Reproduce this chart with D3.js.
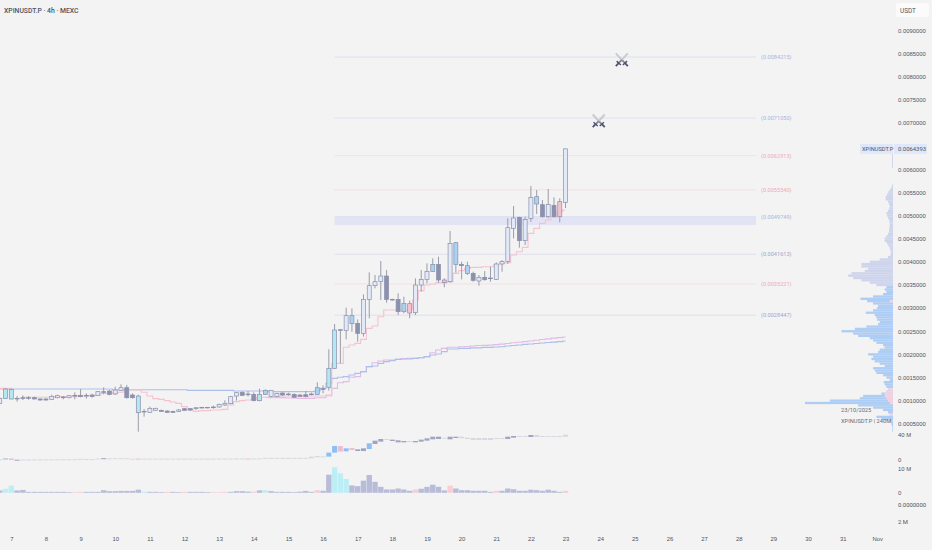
<!DOCTYPE html>
<html>
<head>
<meta charset="utf-8">
<script src="https://cdn.jsdelivr.net/npm/d3@7/dist/d3.min.js"></script>
<style>
  html, body { margin: 0; padding: 0; background: #f3f3f3; overflow: hidden; }
  svg { display: block; font-family: Roboto, sans-serif; }
  .axis text { fill: #50535e; font-size: 5.9px; }
  .axis path, .axis line { display: none; }
</style>
</head>
<body>
<svg id="chart"></svg>
<script>
// Configuration
const width = 932;
const height = 550;
const barWidth = 4;

// Prices are in millionths of USDT, first bar is two bars before 7 Oct 00:00
const bodyTop = [1050,1252,1244,1050,1064,1064,1064,1036,1036,1093,1108,1079,1108,1115,1115,1115,1122,1194,1194,1208,1230,1280,1280,1122,1100,769,834,834,791,776,769,798,827,827,848,856,856,863,920,942,1086,1172,1180,1144,1136,1136,1223,1223,1158,1165,1144,1136,1122,1129,1144,
  1280,1259,1698,2526,2533,2836,2836,2670,3188,3484,3570,3692,3692,3188,3188,3102,3095,3498,3620,3793,3944,3944,3606,4398,4412,3944,3916,3750,3664,3664,3649,3952,4009,4736,4945,4960,4916,5392,5406,5233,5240,5219,5298,6439.3];
const bodyBottom = [942,1050,1036,1036,1050,1050,1036,1014,1014,1028,1064,1064,1064,1100,1086,1100,1093,1115,1180,1136,1144,1223,1064,1064,740,755,748,791,769,748,748,769,791,798,827,841,848,848,863,906,935,1100,1115,1129,1000,1000,1136,1093,1093,1122,1129,1072,1093,1093,1129,
  1136,1244,1288,1698,2519,2519,2663,2454,2454,3188,3484,3577,3188,3174,2922,2922,2893,2900,3498,3620,3793,3606,3548,3570,3944,3916,3750,3599,3584,3613,3635,3620,3952,4009,4722,4456,4456,4938,5248,4974,4974,4974,4974,5284];
const highs = [1072,1266,1266,1100,1115,1100,1086,1050,1050,1129,1129,1100,1122,1180,1252,1158,1151,1208,1288,1230,1302,1352,1338,1158,1129,820,870,848,805,791,784,820,834,841,856,863,863,892,935,1007,1100,1187,1201,1208,1180,1259,1244,1230,1172,1180,1172,1158,1144,1208,1172,
  1396,1331,2108,2656,2540,3008,2994,2756,3296,3772,3714,4016,3822,3203,3318,3246,3160,3642,3822,3966,4074,4110,3642,4664,4427,4002,4002,3786,3714,3800,3894,3988,4038,4938,5204,4974,4974,5636,5550,5334,5572,5392,5370,6439.3];
const lows = [928,1036,1028,978,1014,1021,1028,1000,1000,1021,1050,1028,1050,1028,1072,1043,1064,1108,1136,1115,1122,1216,1043,1043,330,654,740,784,762,733,733,755,784,776,798,834,834,827,848,884,920,1000,1100,1086,985,985,1122,1072,1086,1100,1108,1057,1079,1072,1115,
  1122,1158,1216,1684,1806,2324,2490,2274,2382,2778,3426,3174,3116,3160,2850,2886,2778,2850,3354,3534,3779,3548,3448,3548,3764,3620,3714,3570,3484,3592,3570,3606,3786,3952,4506,4304,4362,4866,5032,4952,4938,4960,4852,5161];
const candleTones = "wccddddddwwdwddddwddwwddcdwwdddwddwdddwwwwdddcbwwddddddbdccdwbdwwwwdddbpwwwbdpwbdbdwddwwwwdwwbdwdpw";

// Step lines over the candles
const pinkLine = [1266,1266,1266,null,1072,1072,1072,1072,1072,1072,1086,1086,1086,1086,1100,1100,1100,1122,1158,1158,1172,1180,1230,1230,1230,1180,1100,1043,1028,1000,971,942,870,798,769,784,784,798,798,812,906,978,1000,1014,1028,1072,1072,1072,1086,1100,1100,1100,1100,1086,1100,
  1100,1100,1100,1806,1806,2152,2202,2238,2324,2562,2612,2814,2958,2958,2958,2958,2958,3174,3376,3498,3520,3550,3550,3570,3750,3808,3858,3880,3880,3894,3894,3930,3966,3980,4146,4218,4312,4614,4722,4830,4902,4960,5082,5118];
const blueLine = [1252,1252,1252,1252,1252,1252,1252,1252,1252,1252,1252,1252,1252,1252,1252,1252,1252,1252,1252,1252,1237,1237,1237,1237,1237,1237,1237,1237,1237,1237,1237,1237,1237,1223,1223,1223,1223,1223,1223,1223,1223,1208,1208,1208,1208,1208,1208,1194,1194,1194,1194,1194,1194,1194,1194,
  1208,1266,1374,1482,1504,1518,1554,1590,1626,1734,1748,1806,1842,1864,1892,1900,1900,1914,1928,1950,1986,2008,2058,2116,2116,2130,2130,2140,2140,2150,2150,2159,2165,2180,2190,2202,2215,2225,2235,2245,2255,2265,2275,2288];
const lavenderLine = [null,null,null,null,null,null,null,null,null,null,null,null,null,null,null,null,null,null,null,null,null,null,null,null,null,null,null,null,null,null,null,null,null,null,null,null,null,null,null,null,null,null,null,null,null,null,1072,1065,1065,1065,1058,1058,1050,1050,1050,
  1064,1064,1122,1266,1388,1410,1504,1518,1626,1734,1820,1856,1878,1878,1892,1907,1914,1914,1928,1950,2036,2094,2130,2152,2152,2165,2170,2180,2190,2195,2200,2210,2220,2235,2250,2260,2275,2290,2305,2320,2335,2350,2362,2375];

// Drawn levels
const levelPrices = [0.0084215, 0.0071050, 0.0062913, 0.0055540, 0.0049749, 0.0041613, 0.0035221, 0.0028447];
const levelTones = ["blue", "blue", "pink", "pink", "blue", "slate", "pink", "slate"];
const zonePrices = [0.0049749, 0.004794];
const swordPrices = [0.00836, 0.00704];
const swordDates = [new Date(Date.UTC(2025, 9, 24, 15)), new Date(Date.UTC(2025, 9, 23, 23))];

// Delta pane, millions
const deltaTop = [0.5,2,2,0,0.4,0.4,0.4,0.5,0.5,0.6,0.6,0.7,0.7,0.8,1.4,1,1,2,2.4,2.2,2.4,2.4,2.4,1.6,1.8,1.8,1.8,1.8,1.7,1.7,1.7,1.7,1.7,1.7,1.8,1.8,1.8,1.8,1.9,1.9,1.9,2,2,2,2,2,3,3,3,3,3,3,3,3,
  4.9,5.9,5.4,11.3,21.9,21.9,18.2,18.7,16.6,18.2,26.2,30.5,33.1,33.1,32.1,31,29.9,29.9,29.9,32.1,34.2,36.8,36.8,35.2,36.8,36.8,36.8,35.2,34.7,34.7,34.7,34.7,34.7,34.7,36.8,37.9,37.9,37.9,39.5,39.5,37.9,37.9,37.9,37.9,40];
const deltaBottom = [0,0.5,-0.5,-0.5,0,0,0.2,0.2,0.2,0.3,0.3,0.3,0.3,0.3,0.5,0.5,0.6,0.8,1.4,1.2,1.5,1.5,1.5,1,1.2,1.2,1.2,1.2,1.2,1.2,1.2,1.2,1.2,1.2,1.2,1.2,1.2,1.2,1.4,1.4,1.4,1.4,1.4,1.4,1.4,1.5,2,2.2,2.2,2.2,2.2,2.2,2.2,2.2,
  2.2,3.8,3.8,4.9,11.3,12.9,13.4,15.5,13.9,13.9,17.1,25.1,28.9,31.5,29.9,27.8,27.8,28.3,27.8,28.9,30.5,32.6,33.1,33.7,32.6,34.7,34.2,33.1,31.5,31.5,31.5,31.5,33.1,33.1,33.1,35.2,36.3,36.3,36.3,36.3,36.8,36.3,36.3,36.3,36.8];
const deltaTones = "gbpdggggggggggggggdgggggpggggggggggggggggggpgggggggggg" + "gggbbpbpddbddgdddgdddddgddggggggggddggdgggggg";

// Volume pane, millions
const volumes = [1.0,1.7,3.0,1.0,1.2,0.4,0.4,0.4,0.4,0.4,0.4,0.4,0.3,0.3,0.4,0.4,0.4,0.4,1.1,0.7,0.7,0.8,0.8,0.8,1.3,0.5,0.4,0.4,0.3,0.4,0.4,0.3,0.4,0.4,0.4,0.4,0.3,0.3,0.3,0.4,0.4,0.7,0.7,0.5,0.5,1.0,1.1,0.7,0.4,0.4,0.4,0.3,0.5,0.8,
  0.4,1.1,0.85,7.6,10.7,8.2,5.8,3.1,2.8,5.1,7.5,4.6,2.5,1.4,1.4,1.8,1.4,0.85,1.4,1.7,2.5,3.4,2.5,1.0,3,1.8,1.1,1.1,0.85,0.85,0.85,0.4,0.85,0.85,1.8,1.5,0.85,0.85,1.3,1.1,0.85,1.3,0.85,0.4,0.85];
const volumeTones = "dccddddddddddppddddddddddcdddpddpddddpppddddpdcdddddddd" + "pddcccdddddddddddpdddddpdddddddpdddddddddddpd";

// Volume profile, rows every 0.00005 going down from profileTop
const profileTop = 0.0063;
const profileStep = 0.00005;
const profileVolumes = [3,3,3,3,3,3,0,0,0,0,0,0,0,
  3,5,10,14,18,22,22,15,12,10,12,15,20,18,15,12,10,10,10,12,12,15,20,25,25,18,14,10,8,6,8,15,40,70,95,95,75,85,125,135,120,95,70,50,
  20,25,20,30,60,98,78,60,45,48,60,82,55,50,48,40,45,80,115,155,120,105,70,60,50,30,25,40,45,75,60,65,55,40,25,
  60,55,50,30,20,10,28,25,20,8,20,35,90,100,190,265,105,60,30,15,10,50,35,8,5,3,2,2];
const profilePinkPrices = [0.00315, 0.00125, 0.0012, 0.00115, 0.0011, 0.00105, 0.001, 0.00095, 0.0007];
const profilePinkVolumes = [10, 15, 20, 25, 25, 20, 15, 10, 8];

const priceTicks = [0.009,0.0085,0.008,0.0075,0.007,0.0065,0.006,0.0055,0.005,0.0045,0.004,0.0035,0.003,0.0025,0.002,0.0015,0.001,0.0005];
const deltaTicks = [0, 40];
const volumeTicks = [0, 10];
const dayTicks = [7,8,9,10,11,12,13,14,15,16,17,18,19,20,21,22,23,24,25,26,27,28,29,30,31,32];

const lastPrice = 0.0064393;
const tickerLabel = "XPINUSDT.P";
const titleLabel = "XPINUSDT.P · 4h · MEXC";

const candleFill = { w: "#e2eafa", c: "#b4e7f4", b: "#a9d2f3", d: "#8b91ae", p: "#f3c3d0" };
const deltaFill = { g: "#d8d9e0", d: "#a0a4c2", b: "#8cbff2", p: "#eebdd2" };
const volumeFill = { d: "#b9bcd8", c: "#bdeef6", p: "#f8cdd4" };
const levelLine = { blue: "#dadff4", pink: "#f5dbe1", slate: "#dedeec" };
const levelText = { blue: "#a8b3e6", pink: "#f2a8bc", slate: "#a2a6cc" };

const barDate = i => new Date(Date.UTC(2025, 9, 7) + (i - 2) * 4 * 3600 * 1000);
const levelStart = new Date(Date.UTC(2025, 9, 16, 8));
const levelEnd = new Date(Date.UTC(2025, 9, 28, 12));

// Create Scales
function createScales() {
    const x = d3.scaleUtc()
        .domain([new Date(Date.UTC(2025, 9, 7)), new Date(Date.UTC(2025, 10, 1))])
        .range([11.3, 877.3]);
    const y = d3.scaleLinear().domain([0.009, 0.0005]).range([30.3, 423.8]);
    const yDelta = d3.scaleLinear().domain([0, 40]).range([459.7, 434.7]);
    const yVolume = d3.scaleLinear().domain([0, 10]).range([492.8, 469]);
    const xProfile = d3.scaleLinear().domain([0, 265]).range([893, 805]);
    return { x, y, yDelta, yVolume, xProfile };
}

// Draw Levels
function drawLevels(svg, s) {
    svg.append("rect")
        .attr("x", s.x(levelStart))
        .attr("width", s.x(levelEnd) - s.x(levelStart))
        .attr("y", s.y(zonePrices[0]))
        .attr("height", s.y(zonePrices[1]) - s.y(zonePrices[0]))
        .attr("fill", "#e2e4f5");

    const levels = svg.append("g").selectAll("g")
        .data(levelPrices)
        .join("g");

    levels.append("line")
        .attr("x1", s.x(levelStart))
        .attr("x2", s.x(levelEnd))
        .attr("y1", d => s.y(d))
        .attr("y2", d => s.y(d))
        .attr("stroke", (d, i) => levelLine[levelTones[i]])
        .attr("stroke-width", 0.9);

    levels.append("text")
        .attr("x", s.x(levelEnd) + 5)
        .attr("y", d => s.y(d))
        .attr("dy", "0.35em")
        .attr("font-size", 5.6)
        .attr("fill", (d, i) => levelText[levelTones[i]])
        .text(d => `(${d3.format(".7f")(d)})`);
}

// Draw step lines
function drawLines(svg, s) {
    const line = d3.line()
        .defined(d => d.v !== null)
        .x(d => s.x(barDate(d.i)))
        .y(d => s.y(d.v * 1e-6))
        .curve(d3.curveStep);

    const series = [
        { values: lavenderLine, color: "#e3bce6" },
        { values: blueLine, color: "#adbfec" },
        { values: pinkLine, color: "#f7c2cf" }
    ];
    series.forEach(d => {
        svg.append("path")
            .datum(d.values.map((v, i) => ({ i, v })))
            .attr("d", line)
            .attr("fill", "none")
            .attr("stroke", d.color)
            .attr("stroke-width", 1.1);
    });
}

// Draw Candles
function drawCandles(svg, s) {
    const candles = svg.append("g").selectAll("g")
        .data(bodyTop.map((top, i) => i))
        .join("g");

    candles.append("line")
        .attr("x1", i => s.x(barDate(i)))
        .attr("x2", i => s.x(barDate(i)))
        .attr("y1", i => s.y(highs[i] * 1e-6))
        .attr("y2", i => s.y(lows[i] * 1e-6))
        .attr("stroke", "#9a9ca9")
        .attr("stroke-width", 1);

    candles.append("rect")
        .attr("x", i => s.x(barDate(i)) - barWidth / 2)
        .attr("width", barWidth)
        .attr("y", i => s.y(bodyTop[i] * 1e-6))
        .attr("height", i => Math.max(0.6, s.y(bodyBottom[i] * 1e-6) - s.y(bodyTop[i] * 1e-6)))
        .attr("fill", i => candleFill[candleTones[i]])
        .attr("stroke", "#8b90aa")
        .attr("stroke-width", 0.7);
}

// Draw Swords
function drawSwords(svg, s) {
    const swords = svg.append("g").selectAll("g")
        .data(swordPrices)
        .join("g")
        .attr("transform", (d, i) => `translate(${s.x(swordDates[i])},${s.y(d)})`);

    [1, -1].forEach(side => {
        swords.append("line")
            .attr("x1", -6 * side).attr("y1", -6.5)
            .attr("x2", 0).attr("y2", 0)
            .attr("stroke", "#c9cad2").attr("stroke-width", 2);
        swords.append("line")
            .attr("x1", 0).attr("y1", 0)
            .attr("x2", 3.5 * side).attr("y2", 3.5)
            .attr("stroke", "#82859a").attr("stroke-width", 1.8);
        swords.append("line")
            .attr("x1", 1 * side).attr("y1", 5)
            .attr("x2", 5.2 * side).attr("y2", 1.2)
            .attr("stroke", "#4f5370").attr("stroke-width", 1.4);
        swords.append("line")
            .attr("x1", 3.2 * side).attr("y1", 3.2)
            .attr("x2", 6 * side).attr("y2", 6.2)
            .attr("stroke", "#4f5370").attr("stroke-width", 1.8);
    });
}

// Draw lower panes
function drawPanes(svg, s) {
    svg.append("g").selectAll("rect")
        .data(volumes.map((v, i) => i))
        .join("rect")
        .attr("x", i => s.x(barDate(i)) - 2.7)
        .attr("width", 5.4)
        .attr("y", i => s.yVolume(volumes[i]))
        .attr("height", i => s.yVolume(0) - s.yVolume(volumes[i]))
        .attr("fill", i => volumeFill[volumeTones[i]]);

    svg.append("g").selectAll("rect")
        .data(deltaTop.map((v, i) => i))
        .join("rect")
        .attr("x", i => s.x(barDate(i)) - 2.5)
        .attr("width", 5)
        .attr("y", i => s.yDelta(deltaTop[i]))
        .attr("height", i => Math.max(1, s.yDelta(deltaBottom[i]) - s.yDelta(deltaTop[i])))
        .attr("fill", i => deltaFill[deltaTones[i]]);
}

// Draw Volume Profile
function drawProfile(svg, s) {
    const rowHeight = s.y(0) - s.y(profileStep);
    svg.append("g").selectAll("rect")
        .data(profileVolumes)
        .join("rect")
        .attr("x", d => s.xProfile(d))
        .attr("width", d => s.xProfile(0) - s.xProfile(d))
        .attr("y", (d, i) => s.y(profileTop - i * profileStep) - rowHeight / 2)
        .attr("height", rowHeight)
        .attr("fill", (d, i) => profileTop - i * profileStep > 0.00345 ? "#cdd4ec" : "#aecdf4");

    svg.append("g").selectAll("rect")
        .data(profilePinkPrices)
        .join("rect")
        .attr("x", (d, i) => s.xProfile(profilePinkVolumes[i]))
        .attr("width", (d, i) => s.xProfile(0) - s.xProfile(profilePinkVolumes[i]))
        .attr("y", d => s.y(d) - rowHeight / 2)
        .attr("height", rowHeight)
        .attr("fill", "#f2d3df");

    svg.append("text").attr("x", 841).attr("y", 412).attr("font-size", 5.7).attr("fill", "#6a6d78").text("23/10/2025");
    svg.append("text").attr("x", 841).attr("y", 423).attr("font-size", 5.7).attr("fill", "#6a6d78").text(`${tickerLabel} | 240M`);
}

// Draw Axes
function drawAxes(svg, s) {
    const axisX = 898;

    svg.append("g")
        .attr("class", "axis")
        .attr("transform", `translate(${axisX - 3},0)`)
        .call(d3.axisRight(s.y).tickValues(priceTicks).tickSize(0).tickFormat(d3.format(".7f")));

    svg.append("g")
        .attr("class", "axis")
        .attr("transform", `translate(${axisX - 3},0)`)
        .call(d3.axisRight(s.yDelta).tickValues(deltaTicks).tickSize(0).tickFormat(d => d ? `${d} M` : "0"));

    svg.append("g")
        .attr("class", "axis")
        .attr("transform", `translate(${axisX - 3},0)`)
        .call(d3.axisRight(s.yVolume).tickValues(volumeTicks).tickSize(0).tickFormat(d => d ? `${d} M` : "0"));

    svg.append("text").attr("x", axisX).attr("y", 505.3).attr("dy", "0.32em")
        .attr("font-size", 5.9).attr("fill", "#50535e").text("0.0000000");
    svg.append("text").attr("x", axisX).attr("y", 522).attr("dy", "0.32em")
        .attr("font-size", 5.9).attr("fill", "#50535e").text("2 M");

    svg.append("g")
        .attr("class", "axis")
        .attr("transform", "translate(0,534)")
        .call(d3.axisBottom(s.x)
            .tickValues(dayTicks.map(d => new Date(Date.UTC(2025, 9, d))))
            .tickSize(0)
            .tickFormat(d => d.getUTCMonth() === 10 ? "Nov" : d.getUTCDate()));
}

// Draw header and tags
function drawLabels(svg, s) {
    svg.append("text")
        .attr("x", 4).attr("y", 12.5)
        .attr("font-size", 6.8).attr("font-weight", 500).attr("fill", "#50535e")
        .text(titleLabel);

    svg.append("rect")
        .attr("x", 896).attr("y", 3).attr("width", 33).attr("height", 14)
        .attr("rx", 2).attr("fill", "#fbfbfb");
    svg.append("text")
        .attr("x", 900).attr("y", 12.5)
        .attr("font-size", 6.4).attr("fill", "#50535e")
        .text("USDT");

    const tagY = s.y(lastPrice);
    svg.append("rect")
        .attr("x", 860).attr("y", tagY - 5).attr("width", 33).attr("height", 10)
        .attr("fill", "#dfe8fa");
    svg.append("rect")
        .attr("x", 894).attr("y", tagY - 5).attr("width", 33).attr("height", 10)
        .attr("fill", "#dfe8fa");
    svg.append("text")
        .attr("x", 862).attr("y", tagY).attr("dy", "0.35em")
        .attr("font-size", 5.7).attr("fill", "#50535e")
        .text(tickerLabel);
    svg.append("text")
        .attr("x", 898).attr("y", tagY).attr("dy", "0.35em")
        .attr("font-size", 5.9).attr("fill", "#50535e")
        .text(d3.format(".7f")(lastPrice));
}

// Render Chart
function renderChart() {
    const svg = d3.select("#chart").attr("width", width).attr("height", height);
    const scales = createScales();

    drawLevels(svg, scales);
    drawLines(svg, scales);
    drawCandles(svg, scales);
    drawSwords(svg, scales);
    drawPanes(svg, scales);
    drawProfile(svg, scales);
    drawAxes(svg, scales);
    drawLabels(svg, scales);
}

renderChart();
</script>
</body>
</html>
